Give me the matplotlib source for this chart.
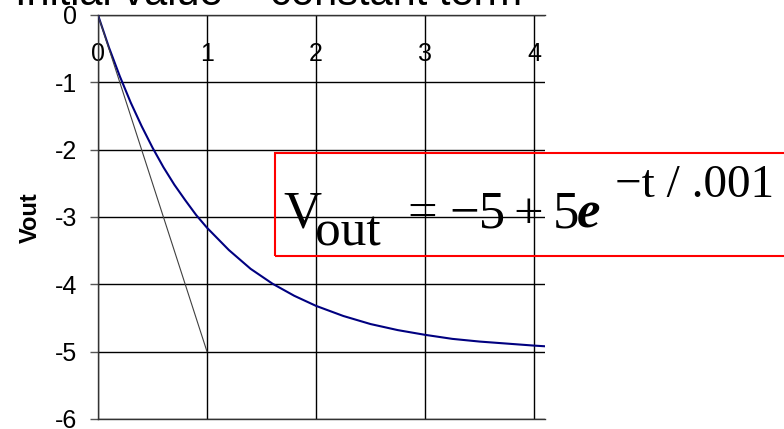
import matplotlib
matplotlib.use("Agg")
import matplotlib.pyplot as plt
from matplotlib.patches import Rectangle

# values
t = [0, 0.1, 0.2, 0.3, 0.4, 0.5, 0.6, 0.7, 0.8, 0.9, 1.0, 1.2, 1.4, 1.6, 1.8,
     2.0, 2.25, 2.5, 2.75, 3.0, 3.25, 3.5, 3.75, 4.0, 4.1]
vout = [0, -0.48, -0.91, -1.30, -1.65, -1.97, -2.26, -2.52, -2.75, -2.97, -3.16,
        -3.49, -3.77, -3.99, -4.17, -4.32, -4.47, -4.59, -4.68, -4.75, -4.81,
        -4.85, -4.88, -4.91, -4.92]
tangent_t = [0, 1]
tangent_v = [0, -5]
xticks = [0, 1, 2, 3, 4]
yticks = [0, -1, -2, -3, -4, -5, -6]

W, H = 784, 429
plt.rcParams['font.family'] = ['Liberation Sans', 'DejaVu Sans']

fig = plt.figure(figsize=(W / 100, H / 100), dpi=100)
ax = fig.add_axes([98 / W, 1 - 419 / H, 447 / W, 404 / H])

def px(x, y):
    # pixel position (from top-left) -> figure fraction
    return x / W, 1 - y / H

ax.plot(t, vout, color='#000080', lw=1.5, zorder=3)
ax.plot(tangent_t, tangent_v, color='#404040', lw=0.8, zorder=3)

ax.set_xlim(0, 4.1)
ax.set_ylim(-6, 0)
ax.set_xticks(xticks)
ax.set_yticks(yticks)
ax.set_xticklabels([str(v) for v in xticks])
ax.set_yticklabels([str(v) for v in yticks])
ax.grid(True, color='black', lw=1.0)
ax.set_axisbelow(True)

ax.spines['right'].set_visible(False)
for s in ['left', 'top', 'bottom']:
    ax.spines[s].set_color('#333333')
    ax.spines[s].set_linewidth(1.0)

ax.tick_params(axis='y', direction='out', length=6, width=1, color='#555555',
               labelsize=18, pad=9)
ax.xaxis.set_ticks_position('top')
ax.tick_params(axis='x', length=0, labelsize=18, labeltop=True,
               labelbottom=False, pad=-37)

fig.text(*px(30, 218), 'Vout', rotation=90, ha='center', va='center',
         fontsize=17, fontweight='bold')

fig.text(*px(15, 5), 'Initial value = constant term', fontsize=30,
         ha='left', va='baseline')

# equation box
fig.patches.append(Rectangle(px(275, 255.5), (W + 10 - 275) / W, 103 / H,
                             transform=fig.transFigure, fill=False,
                             edgecolor='#FF0000', lw=1.5))
serif = ['Liberation Serif', 'DejaVu Serif']
pieces = [
    (283, 228, 'V', 38, 'normal', 'normal'),
    (315, 245, 'out', 37, 'normal', 'normal'),
    (407, 228, '=', 38, 'normal', 'normal'),
    (449, 228, '\u22125', 38, 'normal', 'normal'),
    (513, 228, '+', 38, 'normal', 'normal'),
    (553, 228, '5', 38, 'normal', 'normal'),
    (577, 228, 'e', 38, 'bold', 'italic'),
    (615, 197, '\u2212t / .001', 34, 'normal', 'normal'),
]
for x, y, s, size, weight, style in pieces:
    fig.text(*px(x, y), s, fontsize=size, family=serif, fontweight=weight,
             fontstyle=style, ha='left', va='baseline')

fig.savefig('out.png', dpi=100)
